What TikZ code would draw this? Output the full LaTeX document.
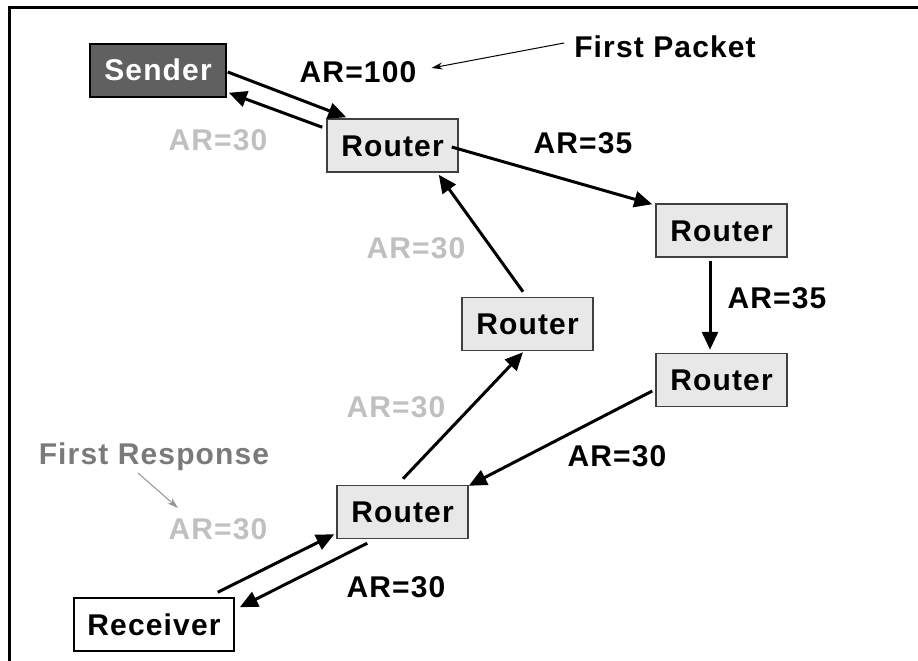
\documentclass[tikz,border=0pt]{standalone}
\usepackage{fontspec}
\setmainfont{Liberation Sans}[LetterSpace=3.8]
\usetikzlibrary{arrows.meta,calc}
\definecolor{senderfill}{HTML}{606060}
\definecolor{routerfill}{HTML}{E8E8E8}
\definecolor{lightlbl}{HTML}{C0C0C0}
\definecolor{midlbl}{HTML}{7A7A7A}
\definecolor{boxline}{HTML}{404040}
\tikzset{
  box/.style={draw=boxline, line width=1.5pt, minimum height=53pt, inner sep=0pt,
    text height=21pt, text depth=0pt, font=\fontsize{30}{30}\selectfont\bfseries},
  senderbox/.style={box, draw=black, fill=senderfill, text=white, minimum width=136pt},
  routerbox/.style={box, fill=routerfill, minimum width=131pt},
  recvbox/.style={box, draw=black, fill=white, minimum width=160pt},
  lbl/.style={inner sep=0pt, text height=21pt, text depth=0pt, font=\fontsize{30}{30}\selectfont\bfseries},
  blacklbl/.style={lbl, text=black},
  greylbl/.style={lbl, text=lightlbl},
  flow/.style={line width=3pt, -{Triangle[length=18pt,width=16pt]}},
  pointer/.style={line width=1pt, -{Stealth[length=11pt,width=7pt]}},
}
\begin{document}
\begin{tikzpicture}[x=1pt,y=-1pt]
\useasboundingbox (0,0) rectangle (918,661);
% frame
\draw[line width=3pt] (9,661) -- (9,8) -- (918,8);
% nodes
\node[senderbox] (sender) at (158,70.5) {Sender};
\node[routerbox] (r1) at (392.5,145.5) {Router};
\node[routerbox] (r2) at (721.5,230.5) {Router};
\node[routerbox] (r3) at (527.5,324) {Router};
\node[routerbox] (r4) at (721.5,380) {Router};
\node[routerbox] (r5) at (402.5,512) {Router};
\node[recvbox] (recv) at (154,624.5) {Receiver};
% labels
\node[blacklbl] (ar100) at (358,72) {AR=100};
\node[blacklbl] (fp) at (665,47) {First Packet};
\node[greylbl] (ar30a) at (218,140) {AR=30};
\node[blacklbl] (ar35a) at (583,143) {AR=35};
\node[greylbl] (ar30b) at (416,248) {AR=30};
\node[blacklbl] (ar35b) at (777,298) {AR=35};
\node[greylbl] (ar30c) at (396,407) {AR=30};
\node[blacklbl] (ar30d) at (617,456) {AR=30};
\node[lbl, text=midlbl] (fr) at (154,454) {First Response};
\node[greylbl] (ar30e) at (218,529) {AR=30};
\node[blacklbl] (ar30f) at (396,587) {AR=30};
% connectors
\draw[flow] ($(sender.east)+(1,1.5)$) -- ($(r1.north west)+(20,-1)$);
\draw[flow] ($(r1.north west)+(-4,9)$) -- ($(sender.south east)+(2,-5)$);
\draw[flow] ($(r1.east)+(-7,1.5)$) -- ($(r2.north west)+(-3,1)$);
\draw[flow] ($(r2.south)+(-11.5,3)$) -- ($(r4.north)+(-11.5,-3)$);
\draw[flow] ($(r4.west)+(-3,11)$) -- ($(r5.north east)+(0,1)$);
\draw[flow] ($(r5.north)+(0.5,-6)$) -- ($(r3.south)+(-4.5,1)$);
\draw[flow] ($(r3.north)+(-4.5,-5)$) -- ($(r1.south east)+(-20,2)$);
\draw[flow] ($(recv.north east)+(-17,-5)$) -- ($(r5.south west)+(-2,-5)$);
\draw[flow] ($(r5.south west)+(31,4)$) -- ($(recv.north east)+(5,10)$);
% pointers
\draw[pointer] ($(fp.west)+(-10,-4)$) -- ($(ar100.east)+(15,-4)$);
\draw[pointer, draw=midlbl!80, fill=midlbl!80] ($(fr.center)+(-16,19)$) -- ($(ar30e.center)+(-40,-21)$);
\end{tikzpicture}
\end{document}
